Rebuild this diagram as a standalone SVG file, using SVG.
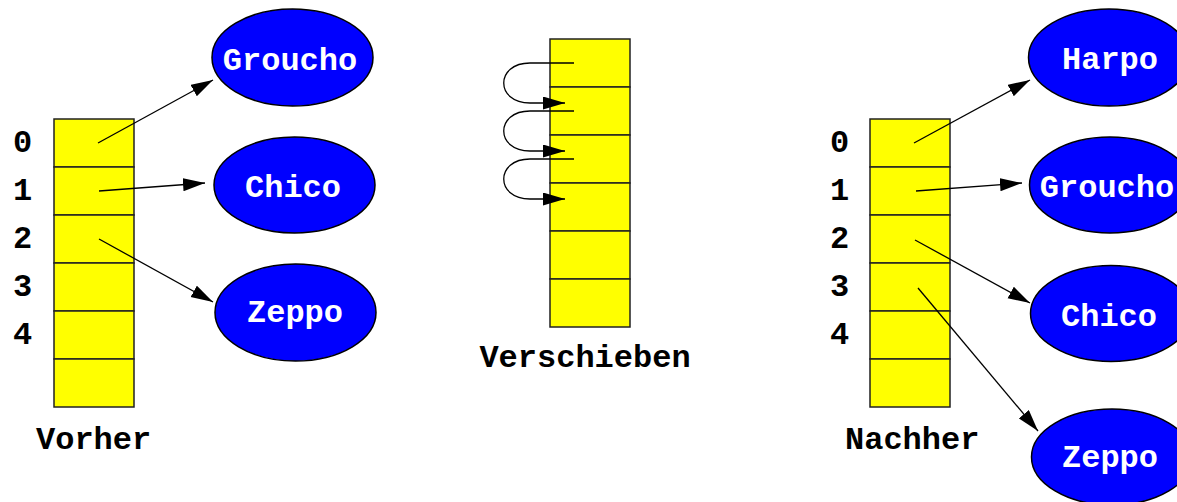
<svg xmlns="http://www.w3.org/2000/svg" width="1177" height="502" viewBox="0 0 1177 502">
<style>
.cell{fill:#ffff00;stroke:#222;stroke-width:1.5}
.node{fill:#0000ff;stroke:#000;stroke-width:1.5}
.nt{font-family:"Liberation Mono","DejaVu Sans Mono",monospace;font-weight:bold;font-size:32px;fill:#fff;text-anchor:middle}
.lb{font-family:"Liberation Mono","DejaVu Sans Mono",monospace;font-weight:bold;font-size:32px;fill:#000}
.cn{fill:none;stroke:#000;stroke-width:1.3;marker-end:url(#ah)}
</style>
<defs>
<marker id="ah" markerUnits="userSpaceOnUse" markerWidth="24" markerHeight="14" refX="22" refY="6.5" orient="auto">
<path d="M0,0 L22,6.5 L0,13 z" fill="#000"/>
</marker>
</defs>
<rect width="1177" height="502" fill="#fff"/>

<g id="array-left">
<rect class="cell" x="54" y="119" width="80" height="48"/>
<rect class="cell" x="54" y="167" width="80" height="48"/>
<rect class="cell" x="54" y="215" width="80" height="48"/>
<rect class="cell" x="54" y="263" width="80" height="48"/>
<rect class="cell" x="54" y="311" width="80" height="48"/>
<rect class="cell" x="54" y="359" width="80" height="48"/>
<text class="lb" x="13" y="152">0</text>
<text class="lb" x="13" y="200">1</text>
<text class="lb" x="13" y="248">2</text>
<text class="lb" x="13" y="296">3</text>
<text class="lb" x="13" y="344">4</text>
<text class="lb" x="36" y="449">Vorher</text>
</g>

<g id="array-mid">
<rect class="cell" x="550" y="39" width="80" height="48"/>
<rect class="cell" x="550" y="87" width="80" height="48"/>
<rect class="cell" x="550" y="135" width="80" height="48"/>
<rect class="cell" x="550" y="183" width="80" height="48"/>
<rect class="cell" x="550" y="231" width="80" height="48"/>
<rect class="cell" x="550" y="279" width="80" height="48"/>
<text class="lb" x="585" y="367" text-anchor="middle">Verschieben</text>
</g>

<g id="array-right">
<rect class="cell" x="870" y="119" width="80" height="48"/>
<rect class="cell" x="870" y="167" width="80" height="48"/>
<rect class="cell" x="870" y="215" width="80" height="48"/>
<rect class="cell" x="870" y="263" width="80" height="48"/>
<rect class="cell" x="870" y="311" width="80" height="48"/>
<rect class="cell" x="870" y="359" width="80" height="48"/>
<text class="lb" x="830" y="152">0</text>
<text class="lb" x="830" y="200">1</text>
<text class="lb" x="830" y="248">2</text>
<text class="lb" x="830" y="296">3</text>
<text class="lb" x="830" y="344">4</text>
<text class="lb" x="845" y="449">Nachher</text>
</g>

<g id="groucho-left"><ellipse class="node" cx="292.5" cy="57.5" rx="80.5" ry="48.5"/><text class="nt" x="290" y="70">Groucho</text></g>
<g id="chico-left"><ellipse class="node" cx="294.5" cy="185" rx="80.5" ry="48"/><text class="nt" x="293" y="197">Chico</text></g>
<g id="zeppo-left"><ellipse class="node" cx="295.5" cy="312.5" rx="80.5" ry="48.5"/><text class="nt" x="295" y="322">Zeppo</text></g>

<g id="harpo-right"><ellipse class="node" cx="1109" cy="57.5" rx="80.5" ry="48.5"/><text class="nt" x="1110" y="69">Harpo</text></g>
<g id="groucho-right"><ellipse class="node" cx="1110" cy="185" rx="80.5" ry="48"/><text class="nt" x="1107" y="197">Groucho</text></g>
<g id="chico-right"><ellipse class="node" cx="1111" cy="313.5" rx="80.5" ry="48"/><text class="nt" x="1109" y="326">Chico</text></g>
<g id="zeppo-right"><ellipse class="node" cx="1112" cy="457" rx="80.5" ry="48"/><text class="nt" x="1110" y="467">Zeppo</text></g>

<g id="connectors">
<line class="cn" x1="98" y1="143" x2="213" y2="80"/>
<line class="cn" x1="99" y1="191" x2="205" y2="183"/>
<line class="cn" x1="99" y1="239" x2="213" y2="302"/>
<path class="cn" d="M574,63 H530 C495,63 495,103 530,103 H565"/>
<path class="cn" d="M574,111 H530 C495,111 495,151 530,151 H565"/>
<path class="cn" d="M574,159 H530 C495,159 495,199 530,199 H565"/>
<line class="cn" x1="914" y1="143" x2="1030" y2="80"/>
<line class="cn" x1="916" y1="191" x2="1022" y2="183"/>
<line class="cn" x1="915" y1="240" x2="1030" y2="303"/>
<line class="cn" x1="918" y1="288" x2="1038" y2="431"/>
</g>
</svg>
